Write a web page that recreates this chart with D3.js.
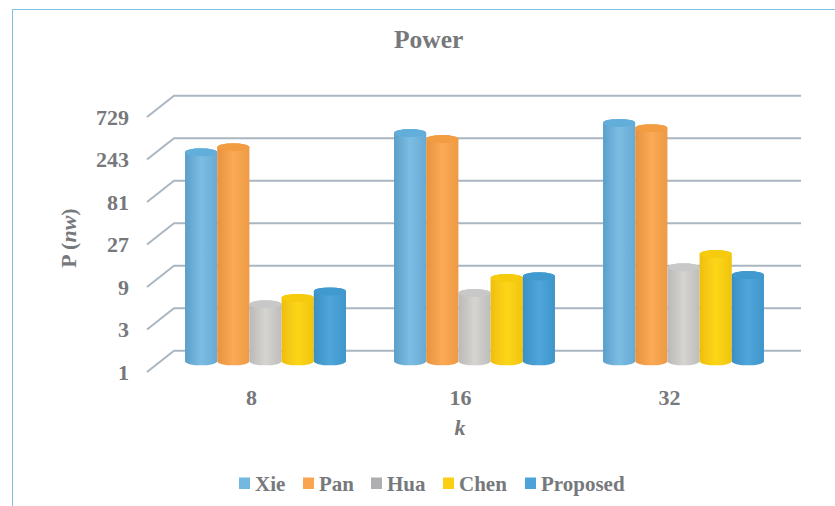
<!DOCTYPE html>
<html>
<head>
<meta charset="utf-8">
<script src="https://cdn.jsdelivr.net/npm/d3@7"></script>
<style>
  html, body { margin: 0; padding: 0; background: #fff; }
  svg { display: block; }
  text { font-family: "Liberation Serif", serif; font-weight: bold; fill: #77787c; }
</style>
</head>
<body>
<svg id="chart" width="835" height="506"></svg>
<script>
const categories = ["8", "16", "32"];
const seriesNames = ["Xie", "Pan", "Hua", "Chen", "Proposed"];
const Xie = [222, 366, 475];
const Pan = [253, 313, 415];
const Hua = [4.37, 5.85, 11.4];
const Chen = [5.15, 8.6, 16];
const Proposed = [6.1, 9, 9.3];
const seriesValues = [Xie, Pan, Hua, Chen, Proposed];
const tickValues = [1, 3, 9, 27, 81, 243, 729];

const legendColors = ["#72b8e0", "#f9a54f", "#afafb3", "#fbcf14", "#4ba3d7"];
const barShades = [
  ["#5a9fca", "#7cbde3", "#66aad4"],
  ["#e8923f", "#fbaa55", "#ee9a45"],
  ["#b9b9b9", "#d6d4cf", "#bdbdbd"],
  ["#efbe10", "#fcd616", "#f2c40f"],
  ["#3c8fc3", "#4fa6da", "#3f95ca"]
];
const capColors = ["#62aedb", "#f29d42", "#c8c8c8", "#f6ca10", "#3f99cf"];

const svg = d3.select("#chart");
const defs = svg.append("defs");
defs.append("filter").attr("id", "soft")
  .append("feGaussianBlur").attr("stdDeviation", 0.7);

barShades.forEach((stops, i) => {
  const g = defs.append("linearGradient").attr("id", `shade${i}`);
  [0, 0.5, 1].forEach((o, j) => g.append("stop").attr("offset", o).attr("stop-color", stops[j]));
});

// Panel frame: only the top and left rules are visible
svg.append("path")
  .attr("d", "M12.5,506V9.5H835")
  .attr("fill", "none").attr("stroke", "#7fc1e6").attr("stroke-width", 1);

// The three depth planes of the 3D plot: front (labels), middle (bars), back (gridlines)
const depth = { x: 27, y: 21.3 };
const front = { left: 147, bottom: 372, top: 117 };
const x = d3.scaleBand().domain(categories).range([front.left, front.left + 627]);
const y = d3.scaleLog().base(3).domain([1, 729]).range([front.bottom, front.top]);

const chart = svg.append("g").attr("filter", "url(#soft)");

// Gridlines running along the floor and back wall
const grid = chart.append("g").attr("fill", "none").attr("stroke", "#aab6c1").attr("stroke-width", 2);
tickValues.forEach(t => {
  const y0 = y(t);
  grid.append("path")
    .attr("d", `M${front.left},${y0}L${front.left + depth.x},${y0 - depth.y}H${x.range()[1] + depth.x}`);
});

// Cylinders sit halfway between the front and back planes
const inner = x.step() * 0.77;
const barBand = d3.scaleBand().domain(d3.range(seriesNames.length))
  .range([0, inner]);
const midX = depth.x / 2 + 0.5, midY = depth.y / 2;
const capRy = 4;

categories.forEach((cat, c) => {
  const g = chart.append("g")
    .attr("transform", `translate(${x(cat) + (x.step() - inner) / 2 + midX},${-midY})`);
  seriesNames.forEach((name, s) => {
    const v = seriesValues[s][c];
    const left = barBand(s), w = barBand.bandwidth();
    const top = y(v), bot = y(1);
    const r = w / 2;
    g.append("path")
      .attr("fill", `url(#shade${s})`)
      .attr("d", `M${left},${top}V${bot}A${r},${capRy} 0 0 0 ${left + w},${bot}V${top}A${r},${capRy} 0 0 0 ${left},${top}Z`);
    g.append("ellipse")
      .attr("cx", left + r).attr("cy", top).attr("rx", r).attr("ry", capRy)
      .attr("fill", capColors[s]);
  });
});

// Value axis
svg.append("g")
  .attr("transform", "translate(139,0)")
  .call(d3.axisLeft(y).tickValues(tickValues).tickFormat(d3.format("d")).tickSize(0).tickPadding(10))
  .call(g => g.select(".domain").remove())
  .call(g => g.selectAll("text")
    .style("font-family", '"Liberation Serif", serif')
    .style("font-size", "22px").style("fill", "#77787c"));

// Category axis
svg.append("g").selectAll("text").data(categories).join("text")
  .attr("x", d => x(d) + x.bandwidth() / 2)
  .attr("y", 405)
  .attr("text-anchor", "middle")
  .attr("font-size", 22)
  .text(d => d);

svg.append("text").attr("x", 394).attr("y", 48).attr("font-size", 25.5).text("Power");

const yTitle = svg.append("text")
  .attr("transform", "translate(76,238) rotate(-90)")
  .attr("text-anchor", "middle")
  .attr("font-size", 22);
yTitle.append("tspan").text("P (");
yTitle.append("tspan").attr("font-style", "italic").text("nw");
yTitle.append("tspan").text(")");

svg.append("text")
  .attr("x", 460).attr("y", 435)
  .attr("text-anchor", "middle")
  .attr("font-style", "italic")
  .attr("font-size", 22)
  .text("k");

// Legend
const legendX = [239, 303, 371, 443, 525];
const legend = svg.append("g").selectAll("g").data(seriesNames).join("g")
  .attr("transform", (d, i) => `translate(${legendX[i]},477.5)`);
legend.append("rect").attr("width", 11).attr("height", 11.5)
  .attr("fill", (d, i) => legendColors[i]);
legend.append("text").attr("x", 16).attr("y", 13.5).attr("font-size", 21).text(d => d);
</script>
</body>
</html>
